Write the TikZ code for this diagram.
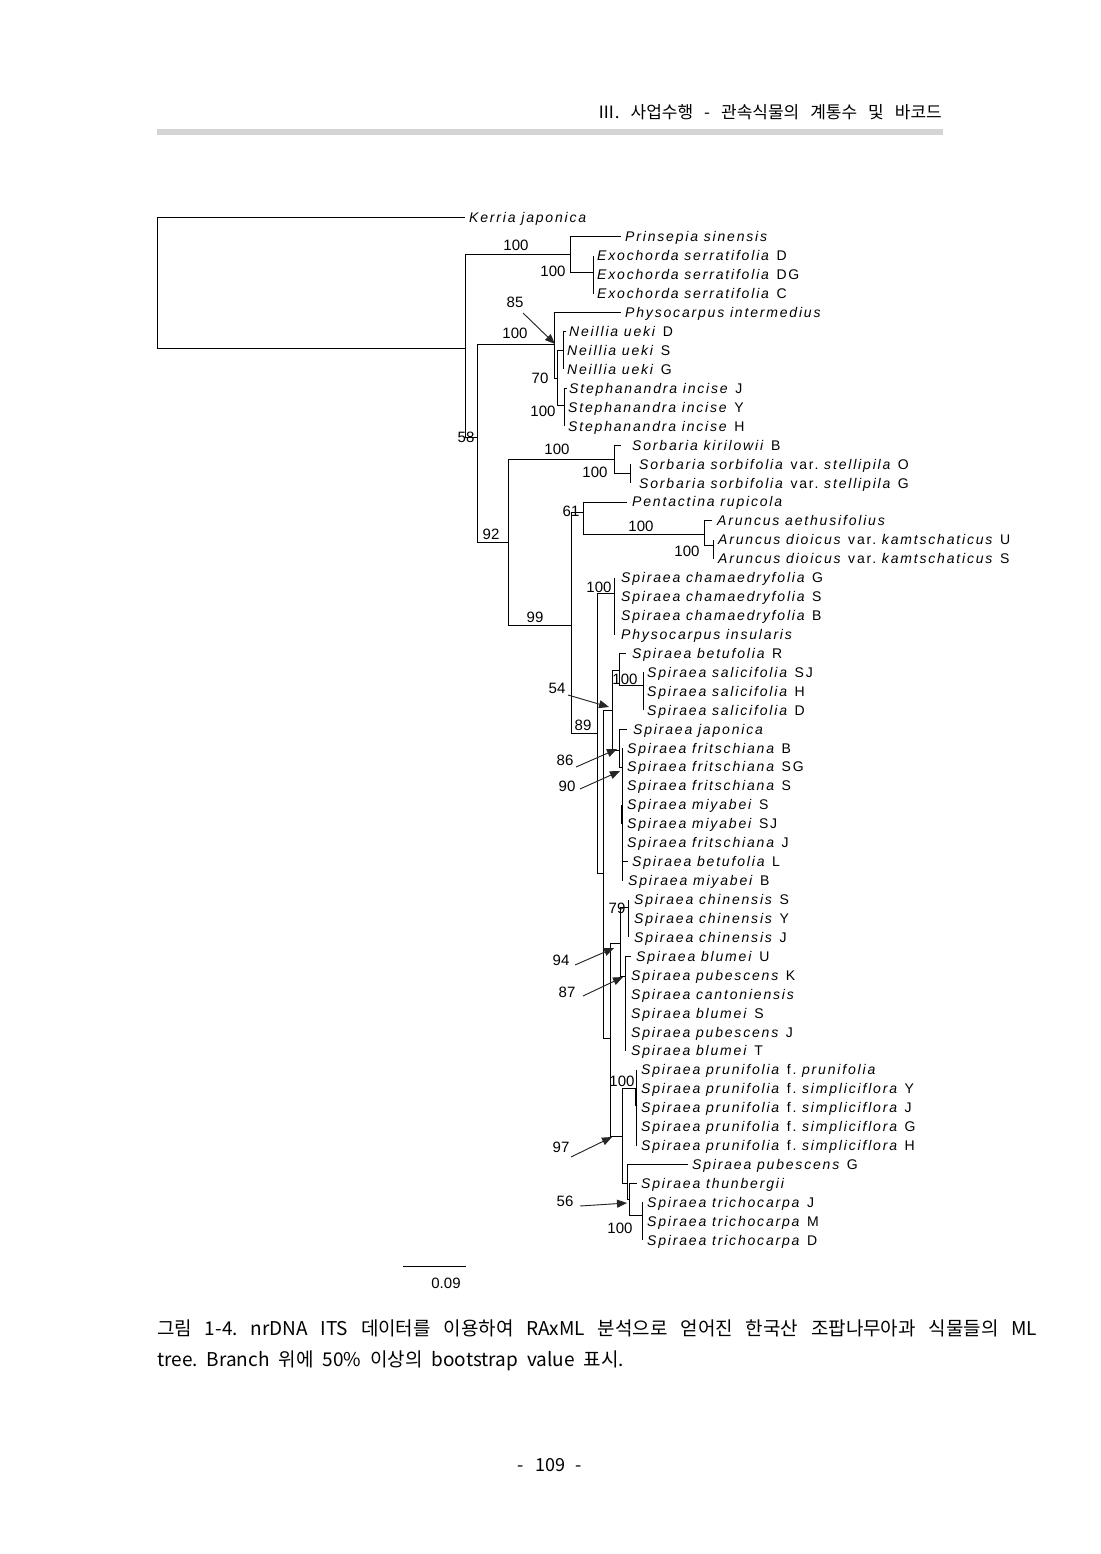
\documentclass[tikz,border=0pt]{standalone}
\usepackage{fontspec}
\setmainfont{Liberation Sans}
\newfontfamily\tipf[LetterSpace=13]{Liberation Sans}
\newfontfamily\krf{Noto Sans CJK KR}
\usetikzlibrary{arrows.meta}
\newcommand\up[1]{\textup{#1}}
\frenchspacing
\begin{document}
\frenchspacing
\begin{tikzpicture}[x=1pt,y=-1pt,
  br/.style={line width=1pt},
  tip/.style={anchor=base west, inner sep=0pt, font=\tipf\fontsize{14}{16}\selectfont\itshape},
  bs/.style={inner sep=0pt, font=\fontsize{15}{17}\selectfont},
  arr/.style={-{Triangle[length=10pt,width=8pt]}, line width=0.9pt, draw=black!85, fill=black},
  kr/.style={inner sep=0pt, font=\krf\fontsize{#1}{#1}\selectfont},
]
\fill[white] (0,0) rectangle (1100,1554);
\path[use as bounding box] (0,0) rectangle (1100,1554);

% header
\node[kr=17, anchor=base east] (hdr) at (942,119) {\spaceskip=11pt Ⅲ. 사업수행 - 관속식물의 계통수 및 바코드};
\fill[black!17] (157,129) rectangle (943,135);

% tip labels
\foreach \i/\x/\t in {
 0/469/{Kerria japonica},
 1/625/{Prinsepia sinensis},
 2/597/{Exochorda serratifolia \up{D}},
 3/597/{Exochorda serratifolia \up{DG}},
 4/597/{Exochorda serratifolia \up{C}},
 5/625/{Physocarpus intermedius},
 6/569/{Neillia ueki \up{D}},
 7/567/{Neillia ueki \up{S}},
 8/567/{Neillia ueki \up{G}},
 9/569/{Stephanandra incise \up{J}},
 10/568/{Stephanandra incise \up{Y}},
 11/568/{Stephanandra incise \up{H}},
 12/632/{Sorbaria kirilowii \up{B}},
 13/639/{Sorbaria sorbifolia \up{var.} stellipila \up{O}},
 14/639/{Sorbaria sorbifolia \up{var.} stellipila \up{G}},
 15/632/{Pentactina rupicola},
 16/717/{Aruncus aethusifolius},
 17/718/{Aruncus dioicus \up{var.} kamtschaticus \up{U}},
 18/718/{Aruncus dioicus \up{var.} kamtschaticus \up{S}},
 19/621/{Spiraea chamaedryfolia \up{G}},
 20/621/{Spiraea chamaedryfolia \up{S}},
 21/621/{Spiraea chamaedryfolia \up{B}},
 22/621/{Physocarpus insularis},
 23/632/{Spiraea betufolia \up{R}},
 24/647/{Spiraea salicifolia \up{SJ}},
 25/647/{Spiraea salicifolia \up{H}},
 26/647/{Spiraea salicifolia \up{D}},
 27/633/{Spiraea japonica},
 28/627/{Spiraea fritschiana \up{B}},
 29/627/{Spiraea fritschiana \up{SG}},
 30/627/{Spiraea fritschiana \up{S}},
 31/627/{Spiraea miyabei \up{S}},
 32/627/{Spiraea miyabei \up{SJ}},
 33/627/{Spiraea fritschiana \up{J}},
 34/632/{Spiraea betufolia \up{L}},
 35/628/{Spiraea miyabei \up{B}},
 36/634/{Spiraea chinensis \up{S}},
 37/634/{Spiraea chinensis \up{Y}},
 38/634/{Spiraea chinensis \up{J}},
 39/636/{Spiraea blumei \up{U}},
 40/631/{Spiraea pubescens \up{K}},
 41/631/{Spiraea cantoniensis},
 42/631/{Spiraea blumei \up{S}},
 43/631/{Spiraea pubescens \up{J}},
 44/631/{Spiraea blumei \up{T}},
 45/641/{Spiraea prunifolia \up{f.} prunifolia},
 46/641/{Spiraea prunifolia \up{f.} simpliciflora \up{Y}},
 47/641/{Spiraea prunifolia \up{f.} simpliciflora \up{J}},
 48/641/{Spiraea prunifolia \up{f.} simpliciflora \up{G}},
 49/641/{Spiraea prunifolia \up{f.} simpliciflora \up{H}},
 50/692/{Spiraea pubescens \up{G}},
 51/641/{Spiraea thunbergii},
 52/647/{Spiraea trichocarpa \up{J}},
 53/647/{Spiraea trichocarpa \up{M}},
 54/647/{Spiraea trichocarpa \up{D}}}
 \node[tip] (t\i) at (\x,{218+18.93*\i+5}) {\t};

% branches
\draw[br] (465,218) -- (157,218) -- (157,348) -- (465,348);
\draw[br] (465,255) -- (465,437);
\draw[br] (465,255) -- (570,255);
\draw[br] (570,236.9) -- (570,272);
\draw[br] (570,236.9) -- (621,236.9);
\draw[br] (570,272) -- (593,272);
\draw[br] (593,255.9) -- (593,293.7);
\draw[br] (465,437) -- (477,437);
\draw[br] (477,344) -- (477,542);
\draw[br] (477,344) -- (554,344);
\draw[br] (554,312.7) -- (554,378);
\draw[br] (554,312.7) -- (621,312.7);
\draw[br] (554,378) -- (557,378);
\draw[br] (557,350.5) -- (557,405);
\draw[br] (557,350.5) -- (563,350.5);
\draw[br] (566,331.6) -- (563,331.6) -- (563,369.4);
\draw[br] (557,405) -- (564,405);
\draw[br] (567,388.4) -- (564,388.4) -- (564,426.2);
\draw[br] (477,542) -- (508,542);
\draw[br] (508,459) -- (508,625);
\draw[br] (508,459) -- (614,459);
\draw[br] (621,445.2) -- (614,445.2) -- (614,473) -- (630,473);
\draw[br] (630,464.1) -- (630,483);
\draw[br] (508,625) -- (571,625);
\draw[br] (571,512) -- (571,733);
\draw[br] (571,512) -- (583,512);
\draw[br] (627,502) -- (583,502) -- (583,534) -- (704,534);
\draw[br] (712,520.9) -- (704,520.9) -- (704,545) -- (713,545);
\draw[br] (713,539.8) -- (713,558.7);
\draw[br] (571,733) -- (597,733);
\draw[br] (597,593) -- (597,873);
\draw[br] (597,593) -- (614,593);
\draw[br] (614,577.7) -- (614,634.5);
\draw[br] (597,873) -- (603,873);
\draw[br] (603,710) -- (603,1038);
\draw[br] (603,710) -- (612,710);
\draw[br] (612,670) -- (612,750);
\draw[br] (612,670) -- (619,670);
\draw[br] (626,653.4) -- (619,653.4) -- (619,685) -- (643,685);
\draw[br] (643,672.3) -- (643,710.2);
\draw[br] (612,750) -- (619,750);
\draw[br] (627,729.1) -- (619,729.1) -- (619,767) -- (622,767);
\draw[br] (622,748) -- (622,880.6);
\draw[line width=2pt] (622,804.8) -- (622,823.8);
\draw[br] (622,861.6) -- (628,861.6);
\draw[br] (603,1038) -- (610,1038);
\draw[br] (610,943) -- (610,1136);
\draw[br] (610,943) -- (620,943);
\draw[br] (620,907) -- (620,976);
\draw[br] (620,907) -- (628,907);
\draw[br] (628,899.5) -- (628,937.3);
\draw[br] (620,976) -- (625,976);
\draw[br] (631,956.3) -- (625,956.3) -- (625,1050.9);
\draw[br] (610,1136) -- (622,1136);
\draw[br] (622,1088.8) -- (622,1183.4);
\draw[br] (622,1088.8) -- (636,1088.8);
\draw[br] (636,1069.9) -- (636,1145.6);
\draw[line width=2pt] (636,1088.8) -- (636,1106);
\draw[br] (622,1183.4) -- (627,1183.4);
\draw[br] (688,1164.5) -- (627,1164.5) -- (627,1199) -- (629,1199);
\draw[br] (637,1183.4) -- (629,1183.4) -- (629,1215) -- (642,1215);
\draw[br] (642,1202.4) -- (642,1240.2);

% bootstrap values
\node[bs] (v1) at (516,245) {100};
\node[bs] (v2) at (553,271) {100};
\node[bs] (v85) at (515,302) {85};
\node[bs] (v3) at (515,333) {100};
\node[bs] (v70) at (540,378) {70};
\node[bs] (v4) at (543,411) {100};
\node[bs] (v58) at (466,437) {58};
\node[bs] (v5) at (557,449) {100};
\node[bs] (v6) at (595,472) {100};
\node[bs] (v92) at (491,534) {92};
\node[bs] (v61) at (571,511) {61};
\node[bs] (v7) at (641,526) {100};
\node[bs] (v8) at (687,551) {100};
\node[bs] (v99) at (535,617) {99};
\node[bs] (v9) at (599,587) {100};
\node[bs] (v10) at (625,679) {100};
\node[bs] (v54) at (557,688) {54};
\node[bs] (v89) at (583,725) {89};
\node[bs] (v86) at (565,760) {86};
\node[bs] (v90) at (567,786) {90};
\node[bs] (v79) at (617,908) {79};
\node[bs] (v94) at (561,960) {94};
\node[bs] (v87) at (567,992) {87};
\node[bs] (v11) at (622,1081) {100};
\node[bs] (v97) at (561,1147) {97};
\node[bs] (v56) at (565,1201) {56};
\node[bs] (v12) at (620,1228) {100};

% arrows
\coordinate (s85) at (523,313); \coordinate (e85) at (555,344);
\coordinate (s54) at (568,695); \coordinate (e54) at (609,707);
\coordinate (s86) at (576,767); \coordinate (e86) at (617,749);
\coordinate (s90) at (580,789); \coordinate (e90) at (620,771);
\coordinate (s94) at (575,965); \coordinate (e94) at (614,948);
\coordinate (s87) at (583,996); \coordinate (e87) at (623,977);
\coordinate (s97) at (571,1157); \coordinate (e97) at (612,1137);
\coordinate (s56) at (580,1206); \coordinate (e56) at (627,1203);
\foreach \k in {85,54,86,90,94,87,97,56} \draw[arr] (s\k) -- (e\k);

% scale bar
\coordinate (sb1) at (403,1266); \coordinate (sb2) at (466,1266);
\draw[line width=1pt] (sb1) -- (sb2);
\node[bs] (sbl) at (446,1283) {0.09};

% caption
\node[kr=19, anchor=base west] (cap1) at (157,1335)
  {\spaceskip=5pt plus 20pt \makebox[880pt][s]{그림 1-4. nrDNA ITS 데이터를 이용하여 RAxML 분석으로 얻어진 한국산 조팝나무아과 식물들의 ML}};
\node[kr=19, anchor=base west] (cap2) at (157,1366) {\spaceskip=9pt tree. Branch 위에 50\% 이상의 bootstrap value 표시.};

% page number
\node[kr=18, anchor=base] (pg) at (550,1471) {\spaceskip=11pt - 109 -};
\end{tikzpicture}
\end{document}
